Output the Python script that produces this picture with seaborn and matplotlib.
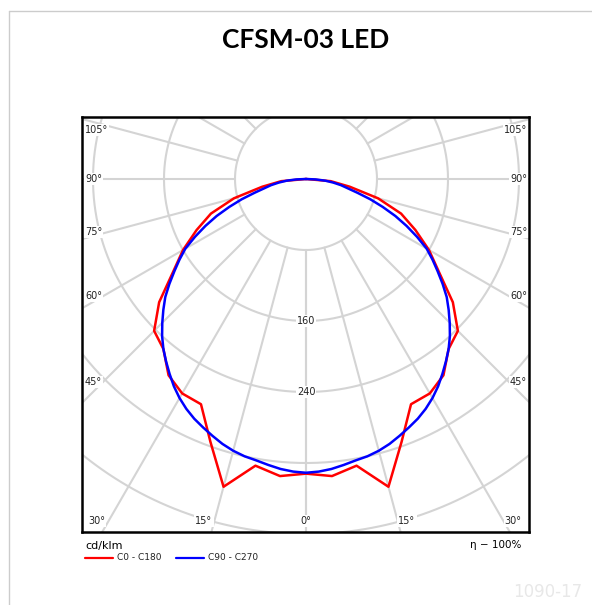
import numpy as np
import pandas as pd
import matplotlib
matplotlib.use("Agg")
import matplotlib.pyplot as plt
from matplotlib.lines import Line2D
import seaborn as sns

# ---- data (cd/klm), angle measured from nadir (0° = down) ----
c0_angles = [0, 5, 10, 15, 20, 25, 30, 35, 40, 45, 50, 55, 60, 65, 70, 75, 80, 85, 90]
c0_c180 = [332, 336, 328, 359, 315, 280, 279, 270, 250, 242, 216, 183, 160, 136, 114, 84, 50, 28, 0]
c90_angles = [0, 2.5, 5, 7.5, 10, 12.5, 15, 17.5, 20, 22.5, 25, 27.5, 30, 32.5, 35, 37.5,
              40, 42.5, 45, 47.5, 50, 52.5, 55, 57.5, 60, 62.5, 65, 67.5, 70, 72.5, 75,
              77.5, 80, 82.5, 85, 87.5, 90]
c90_c270 = [331, 330, 328, 325, 322, 320, 317, 313, 308, 303, 298, 292, 285, 277, 268, 259,
            250, 240, 229, 218, 207, 194, 181, 169, 157, 141, 125, 109, 92, 76, 60,
            48, 40, 31, 22, 11, 0]
series_names = ["C0 - C180", "C90 - C270"]
series_colors = ["#ff0000", "#0000ff"]
ring_values = [80, 160, 240, 320, 400, 480]
ring_labels = ["160", "240"]
grid_angles = list(range(0, 181, 15))
title = "CFSM-03 LED"

sns.set_style("white")
plt.rcParams["font.family"] = ["DejaVu Sans"]

W, H = 592, 605
fig = plt.figure(figsize=(W / 100, H / 100), dpi=100)

# pixel geometry of the diagram box
bx0, bx1, by0, by1 = 82, 529, 117, 532
cx, cy = 306, 179
S = 71 / 80.0  # pixels per cd/klm

ax = fig.add_axes([bx0 / W, 1 - by1 / H, (bx1 - bx0) / W, (by1 - by0) / H])
ax.set_xlim((bx0 - cx) / S, (bx1 - cx) / S)
ax.set_ylim(-(by1 - cy) / S, (cy - by0) / S)
ax.set_xticks([])
ax.set_yticks([])
for sp in ax.spines.values():
    sp.set_color("black")
    sp.set_linewidth(1.8)
    sp.set_visible(True)

grid_col = "#d4d4d4"
t = np.linspace(0, 2 * np.pi, 600)
for r in ring_values:
    ax.plot(r * np.cos(t), r * np.sin(t), color=grid_col, lw=1.5, zorder=1)
for a in grid_angles:
    ar = np.radians(a)
    for sgn in (-1, 1):
        ax.plot([sgn * 80 * np.sin(ar), sgn * 800 * np.sin(ar)],
                [-80 * np.cos(ar), -800 * np.cos(ar)],
                color=grid_col, lw=1.5, zorder=1)

# build curves (mirror to both halves)
rows = []
for name, angs, vals in zip(series_names, [c0_angles, c90_angles], [c0_c180, c90_c270]):
    full_ang = [-a for a in angs[::-1]] + angs[1:]
    full_val = vals[::-1] + vals[1:]
    for i, (a, v) in enumerate(zip(full_ang, full_val)):
        ar = np.radians(a)
        rows.append({"series": name, "order": i,
                     "x": v * np.sin(ar), "y": -v * np.cos(ar)})
df = pd.DataFrame(rows)
sns.lineplot(data=df, x="x", y="y", hue="series", sort=False, estimator=None,
             palette=dict(zip(series_names, series_colors)), linewidth=1.8,
             legend=False, ax=ax, zorder=3)
ax.set_xlabel("")
ax.set_ylabel("")

def ftext(px, py, s, **kw):
    return fig.text(px / W, 1 - py / H, s, **kw)

lab_kw = dict(fontsize=7, color="#222222", va="center",
              bbox=dict(boxstyle="square,pad=0.1", fc="white", ec="none"))
ftext(306, 321, ring_labels[0], ha="center", **lab_kw)
ftext(306, 392, ring_labels[1], ha="center", **lab_kw)

side = [("105°", 130), ("90°", 179), ("75°", 232), ("60°", 296), ("45°", 382)]
for s, py in side:
    ftext(85, py, s, ha="left", **lab_kw)
    ftext(527, py, s, ha="right", **lab_kw)
bottom = [("30°", 97), ("15°", 204), ("0°", 306), ("15°", 407), ("30°", 513)]
for s, px in bottom:
    ftext(px, 521, s, ha="center", **lab_kw)

# title
ftext(306, 40, title, ha="center", va="center", fontsize=19,
      fontweight="bold", family=["Lato", "DejaVu Sans"], color="black")

# unit and legend
ftext(85, 546, "cd/klm", ha="left", va="center", fontsize=8, color="black")
for (x0, x1, tx), name, col in zip([(85, 113, 117), (176, 204, 208)], series_names, series_colors):
    fig.add_artist(Line2D([x0 / W, x1 / W], [1 - 558 / H, 1 - 558 / H], color=col, lw=1.6))
    ftext(tx, 558, name, ha="left", va="center", fontsize=6.5, color="#222222")
ftext(521, 545, "η − 100%", ha="right", va="center", fontsize=7.5, color="black")

# watermark
ftext(548, 592, "1090-17", ha="center", va="center", fontsize=12, color="#e8e8e8")

# outer light frame
fig.add_artist(Line2D([9 / W, 9 / W], [1 - 11 / H, 0], color="#cccccc", lw=1))
fig.add_artist(Line2D([9 / W, 1], [1 - 11 / H, 1 - 11 / H], color="#cccccc", lw=1))

fig.savefig("out.png", dpi=100, facecolor="white")
